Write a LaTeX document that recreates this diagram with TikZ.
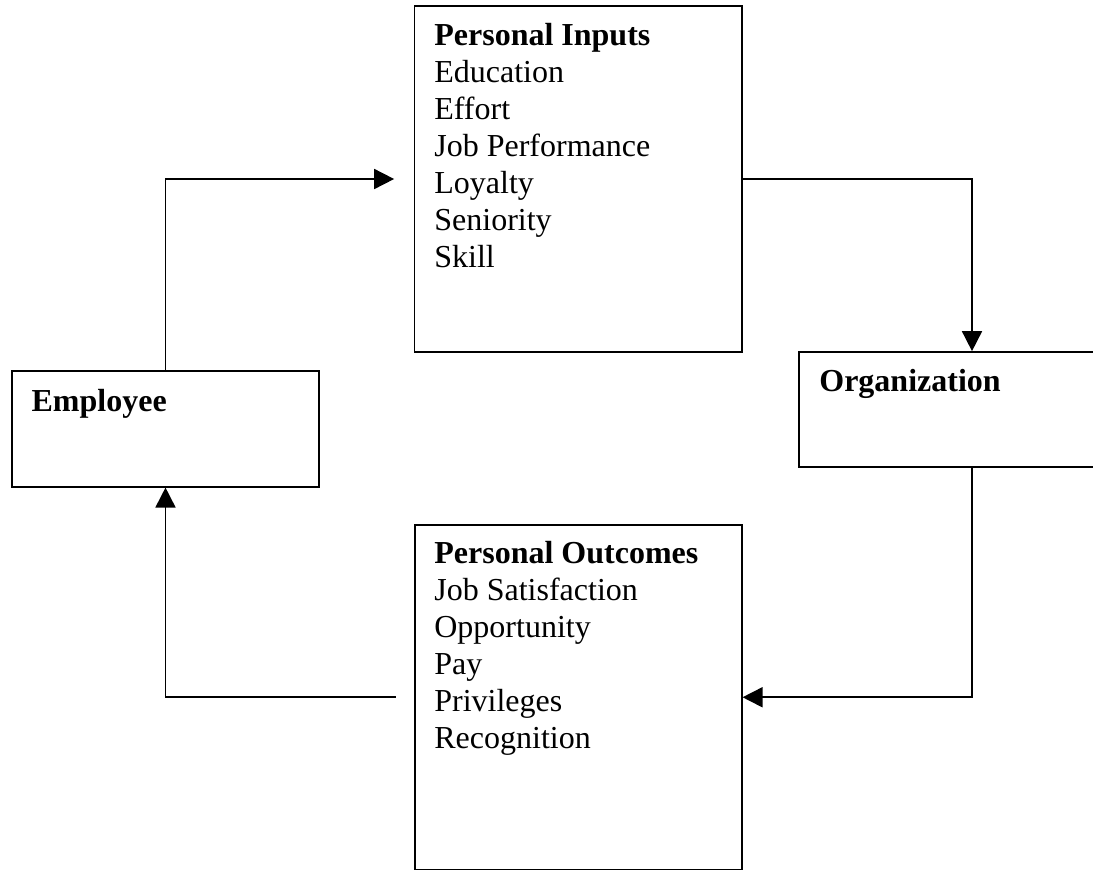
\documentclass[tikz,border=0pt]{standalone}
\usepackage{fontspec}
\setmainfont{Liberation Serif}
\usetikzlibrary{arrows.meta}
\begin{document}
\begin{tikzpicture}[x=1pt,y=-1pt,
  box/.style={draw, line width=1.7pt, inner sep=0pt},
  txt/.style={font=\fontsize{32}{37}\selectfont, align=left, anchor=north west, inner sep=0pt},
  arr/.style={line width=1.7pt, -{Triangle[length=20pt,width=20pt]}}]
\useasboundingbox (0,0) rectangle (1093,871);
\node[box, minimum width=327.2pt, minimum height=346pt] (inputs) at (578.1,179) {};
\node[box, minimum width=307.6pt, minimum height=115.7pt] (emp) at (165.5,428.85) {};
\node[box, minimum width=346.6pt, minimum height=115.3pt] (org) at (972,409.65) {};
\node[box, minimum width=326.7pt, minimum height=344.5pt] (outcomes) at (578.35,697.25) {};
\node[txt] (inputsT) at ([xshift=20.5pt,yshift=-18pt]inputs.north west)
  {\textbf{Personal Inputs}\\Education\\Effort\\Job Performance\\Loyalty\\Seniority\\Skill};
\node[txt] (empT) at ([xshift=20.6pt,yshift=-18.7pt]emp.north west) {\textbf{Employee}};
\node[txt] (orgT) at ([xshift=21.3pt,yshift=-17.7pt]org.north west) {\textbf{Organization}};
\node[txt] (outT) at ([xshift=20pt,yshift=-17pt]outcomes.north west)
  {\textbf{Personal Outcomes}\\Job Satisfaction\\Opportunity\\Pay\\Privileges\\Recognition};
\draw[arr, shorten >=19.5pt] (emp.north) |- (inputs.west);
\draw[arr] (inputs.east) -| (org.north);
\draw[arr] (org.south) |- (outcomes.east);
\draw[arr, shorten <=18.3pt] (outcomes.west) -| (emp.south);
\end{tikzpicture}
\end{document}
